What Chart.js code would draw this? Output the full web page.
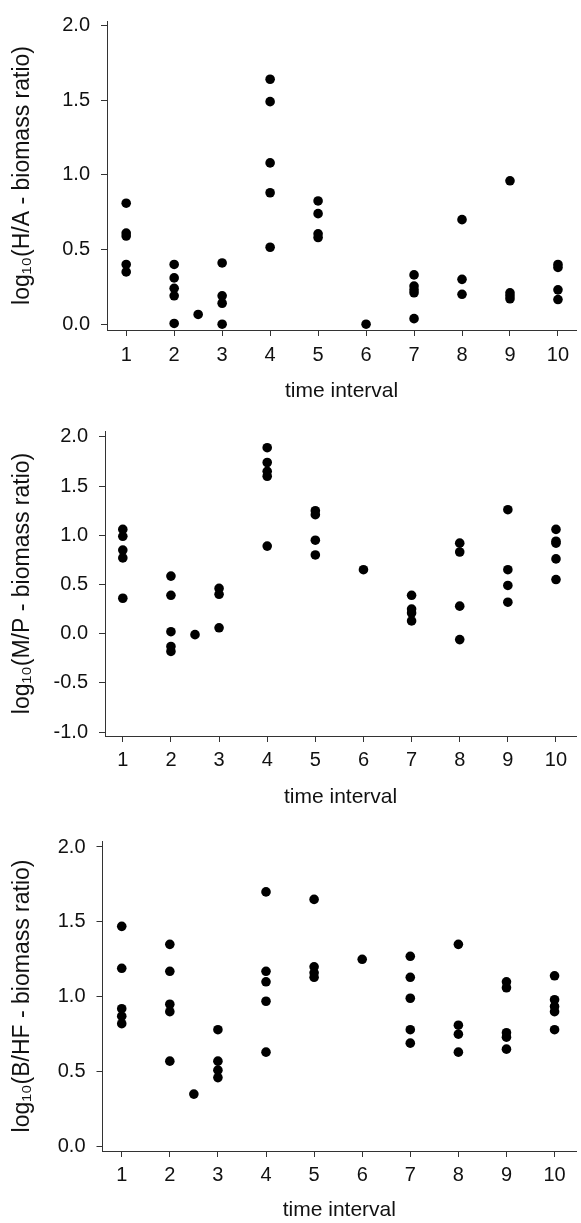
<!DOCTYPE html>
<html><head><meta charset="utf-8">
<script src="https://cdn.jsdelivr.net/npm/chart.js@4"></script>
<style>
html,body{margin:0;padding:0;background:#fff;width:581px;height:1223px;overflow:hidden}
.c{position:absolute;left:0;width:581px}
</style></head><body>
<div class="c" style="top:0;height:410px"><canvas id="c1"></canvas></div>
<div class="c" style="top:410px;height:410px"><canvas id="c2"></canvas></div>
<div class="c" style="top:820px;height:403px"><canvas id="c3"></canvas></div>
<script>
// ---- data ----
const xTickLabels = [1,2,3,4,5,6,7,8,9,10];
const xTitle = "time interval";

// Panel 1: log10(H/A - biomass ratio)
const haTitle = "log\u2081\u2080(H/A - biomass ratio)";
const haX = [1,1,1,1,1, 2,2,2,2,2, 2.5, 3,3,3,3, 4,4,4,4,4, 5,5,5,5, 6, 7,7,7,7,7, 8,8,8, 9,9,9,9, 10,10,10,10];
const haY = [0.81,0.61,0.59,0.40,0.35, 0.40,0.31,0.24,0.19,0.005, 0.065, 0.41,0.19,0.14,0.0, 1.64,1.49,1.08,0.88,0.515, 0.825,0.74,0.605,0.58, 0.0, 0.33,0.255,0.23,0.21,0.037, 0.70,0.30,0.20, 0.96,0.21,0.19,0.17, 0.40,0.38,0.23,0.165];
const haTicks = [0,0.5,1.0,1.5,2.0];

// Panel 2: log10(M/P - biomass ratio)
const mpTitle = "log\u2081\u2080(M/P - biomass ratio)";
const mpX = [1,1,1,1,1, 2,2,2,2,2, 2.5, 3,3,3, 4,4,4,4,4, 5,5,5,5, 6, 7,7,7,7, 8,8,8,8, 9,9,9,9, 10,10,10,10,10];
const mpY = [1.06,0.99,0.85,0.77,0.36, 0.585,0.39,0.02,-0.13,-0.18, -0.01, 0.46,0.40,0.06, 1.89,1.74,1.65,1.60,0.89, 1.25,1.21,0.95,0.80, 0.65, 0.39,0.25,0.21,0.13, 0.92,0.83,0.28,-0.06, 1.26,0.65,0.49,0.32, 1.06,0.94,0.92,0.76,0.55];
const mpTicks = [-1.0,-0.5,0,0.5,1.0,1.5,2.0];

// Panel 3: log10(B/HF - biomass ratio)
const bhTitle = "log\u2081\u2080(B/HF - biomass ratio)";
const bhX = [1,1,1,1,1, 2,2,2,2,2, 2.5, 3,3,3,3, 4,4,4,4,4, 5,5,5,5, 6, 7,7,7,7,7, 8,8,8,8, 9,9,9,9,9, 10,10,10,10,10];
const bhY = [1.47,1.19,0.92,0.87,0.82, 1.35,1.17,0.95,0.90,0.57, 0.35, 0.78,0.57,0.51,0.46, 1.70,1.17,1.10,0.97,0.63, 1.65,1.20,1.16,1.13, 1.25, 1.27,1.13,0.99,0.78,0.69, 1.35,0.81,0.75,0.63, 1.10,1.06,0.76,0.73,0.65, 1.14,0.98,0.935,0.90,0.78];
const bhTicks = [0,0.5,1.0,1.5,2.0];

// ---- drawing ----
const FONT = "'Liberation Sans', Arial, Helvetica, sans-serif";
const INK = '#111';

function makeChart(id, xs, ys, yTicks, yTitle, g) {
  const pts = xs.map((x, i) => ({x: x, y: ys[i]}));
  new Chart(document.getElementById(id), {
    type: 'scatter',
    data: { datasets: [{ data: pts, backgroundColor: '#000', borderWidth: 0, pointRadius: 4.8, pointHoverRadius: 4.8 }] },
    options: {
      responsive: true, maintainAspectRatio: false, animation: false,
      layout: { padding: { top: g.top, left: 0, right: 0, bottom: 0 } },
      plugins: { legend: { display: false }, tooltip: { enabled: false } },
      scales: {
        x: {
          type: 'linear', min: g.xmin, max: g.xmax,
          afterBuildTicks: ax => { ax.ticks = xTickLabels.map(v => ({value: v})); },
          afterFit: ax => { ax.height = g.xh; },
          border: { display: true, color: '#333', width: 1 },
          grid: { drawOnChartArea: false, drawTicks: true, tickLength: 6, color: '#333', lineWidth: 1 },
          ticks: { color: INK, font: { family: FONT, size: 20, lineHeight: 1 }, padding: g.xpad, maxRotation: 0,
                   callback: v => String(v) },
          title: { display: true, text: xTitle, color: INK, font: { family: FONT, size: 21, lineHeight: 1.2 },
                   padding: { top: 0, bottom: g.tpad } }
        },
        y: {
          type: 'linear', min: g.ymin, max: g.ymax,
          afterBuildTicks: ax => { ax.ticks = yTicks.map(v => ({value: v})); },
          afterFit: ax => { ax.width = g.yw; },
          border: { display: true, color: '#333', width: 1 },
          grid: { drawOnChartArea: false, drawTicks: true, tickLength: 6, color: '#333', lineWidth: 1 },
          ticks: { color: INK, font: { family: FONT, size: 20, lineHeight: 1 }, padding: 11,
                   callback: v => v.toFixed(1) },
          title: { display: true, text: yTitle, color: INK, font: { family: FONT, size: 23, lineHeight: 1.2 },
                   padding: { top: 8.5, bottom: 0 } }
        }
      }
    }
  });
}

makeChart('c1', haX, haY, haTicks, haTitle,
  { top: 8, xmin: 0.6, xmax: 10.38, ymin: -0.039, ymax: 2.03, xh: 80, xpad: 9, tpad: 6, yw: 107 });
makeChart('c2', mpX, mpY, mpTicks, mpTitle,
  { top: 5, xmin: 0.63, xmax: 10.42, ymin: -1.04, ymax: 2.06, xh: 84, xpad: 8, tpad: 10, yw: 105 });
makeChart('c3', bhX, bhY, bhTicks, bhTitle,
  { top: 10, xmin: 0.6, xmax: 10.45, ymin: -0.03, ymax: 2.04, xh: 72, xpad: 8, tpad: 0, yw: 102.5 });
</script>
</body></html>
